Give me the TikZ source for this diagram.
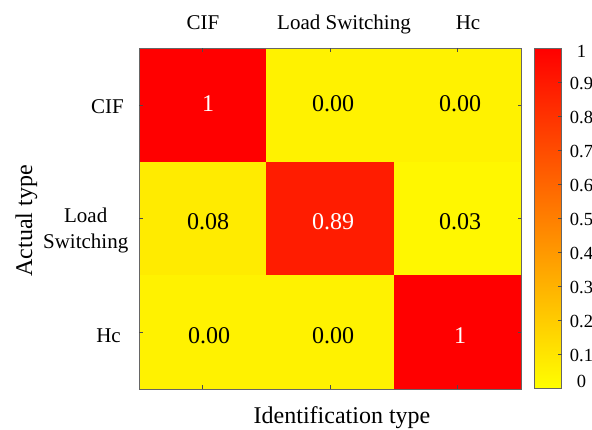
\documentclass[tikz,border=0pt]{standalone}
\usepackage{fontspec}
\setmainfont{Liberation Serif}
\begin{document}
\begin{tikzpicture}[x=1pt,y=-1pt,
  frame/.style={draw=black!60, line width=0.8pt},
  tickmark/.style={draw=black!70, line width=0.7pt},
  val/.style={font=\fontsize{24}{28}\selectfont, anchor=base, inner sep=0pt},
  lbl/.style={font=\fontsize{21}{25}\selectfont, anchor=base, inner sep=0pt},
  axlbl/.style={font=\fontsize{24}{28}\selectfont, inner sep=0pt},
  cbl/.style={font=\fontsize{18.5}{21}\selectfont, anchor=base, inner sep=0pt}]
\useasboundingbox (0,0) rectangle (592,430);
\fill[white] (0,0) rectangle (592,430);

% confusion matrix cells (colour = red!value!yellow)
\fill[red]             (139,48.5)   rectangle (266.3,162);
\fill[yellow]          (266.3,48.5) rectangle (393.7,162);
\fill[yellow]          (393.7,48.5) rectangle (521,162);
\fill[red!8!yellow]    (139,162)    rectangle (266.3,275.5);
\fill[red!89!yellow]   (266.3,162)  rectangle (393.7,275.5);
\fill[red!3!yellow]    (393.7,162)  rectangle (521,275.5);
\fill[yellow]          (139,275.5)  rectangle (266.3,389);
\fill[yellow]          (266.3,275.5) rectangle (393.7,389);
\fill[red]             (393.7,275.5) rectangle (521,389);
\draw[frame] (139,48.5) rectangle (521,389);

% tick marks on all four sides of the matrix
\foreach \x in {202.6,330,457.4}{
  \draw[tickmark] (\x,48.5) -- ++(0,3.5);
  \draw[tickmark] (\x,389) -- ++(0,-3.5);
}
\foreach \y in {105.2,218.7,332.2}{
  \draw[tickmark] (139,\y) -- ++(3.5,0);
  \draw[tickmark] (521,\y) -- ++(-3.5,0);
}

% cell values
\node[val, white] (v11) at (208,112) {1};
\node[val]        (v12) at (333,112) {0.00};
\node[val]        (v13) at (460,112) {0.00};
\node[val]        (v21) at (208,230) {0.08};
\node[val, white] (v22) at (333,230) {0.89};
\node[val]        (v23) at (460,230) {0.03};
\node[val]        (v31) at (209,344) {0.00};
\node[val]        (v32) at (333,344) {0.00};
\node[val, white] (v33) at (460,344) {1};

% column labels (identification type)
\node[lbl] (cCIF)  at (203,30) {CIF};
\node[lbl] (cLoad) at (344,30) {Load Switching};
\node[lbl] (cHc)   at (468,30) {Hc};

% row labels (actual type)
\node[lbl, anchor=base east] (rCIF) at (124,114) {CIF};
\node[font=\fontsize{21}{26}\selectfont, align=center, inner sep=0pt, anchor=east]
  (rLoad) at (128.5,230) {Load\\Switching};
\node[lbl, anchor=base east] (rHc) at (121,343) {Hc};

% axis titles
\node[axlbl, anchor=base] (xt) at (342,423) {Identification type};
\node[axlbl, rotate=90, anchor=base] (yt) at (32,221) {Actual type};

% colour bar
\shade[top color=red, bottom color=yellow] (534.5,48.5) rectangle (561.5,388.5);
\draw[frame] (534.5,48.5) rectangle (561.5,388.5);
\foreach \k in {1,...,9}{
  \draw[tickmark] (561.5,{388.5-34*\k}) -- ++(-3.5,0);
}
\node[cbl] (cb1) at (581.5,58) {1};
\foreach \k/\t in {9/0.9,8/0.8,7/0.7,6/0.6,5/0.5,4/0.4,3/0.3,2/0.2,1/0.1}{
  \node[cbl] (cb\k) at (581.5,{388.5-34*\k+7}) {\t};
}
\node[cbl] (cb0) at (581.5,388) {0};
\end{tikzpicture}
\end{document}
